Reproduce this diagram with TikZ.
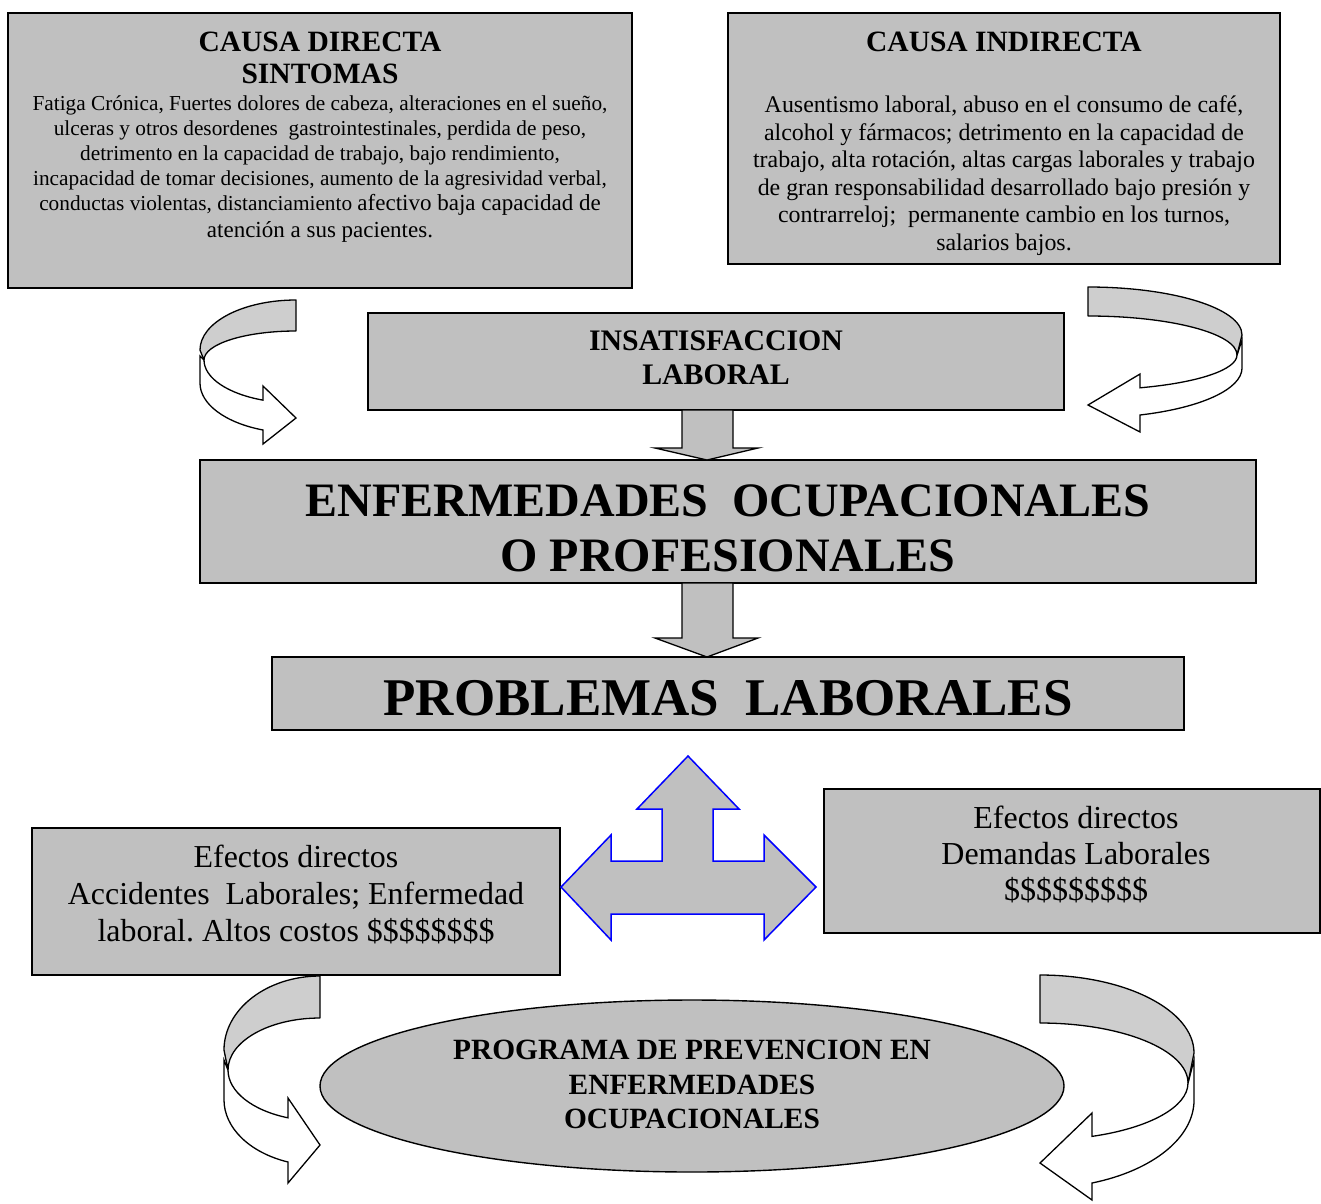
\documentclass[tikz,border=0pt]{standalone}
\usepackage{fontspec}
\setmainfont{Liberation Serif}
\usetikzlibrary{shapes.geometric}
\definecolor{boxgray}{RGB}{192,192,192}
\definecolor{bandgray}{RGB}{206,206,206}
\definecolor{blueline}{RGB}{0,0,255}
\frenchspacing
\begin{document}
\begin{tikzpicture}[x=1pt,y=-1pt,
  box/.style={draw=black,line width=1.4pt,fill=boxgray,inner sep=0pt,outer sep=0pt,anchor=north west},
  txt/.style={inner sep=0pt,outer sep=0pt,align=center,anchor=north},
  headfont/.style={font=\fontsize{29.5}{31.6}\selectfont\bfseries},
  blockarrow/.style={draw=black,line width=1.3pt,fill=boxgray,line join=miter},
  bandback/.style={draw=black,line width=1.3pt,fill=bandgray,line join=round},
  bandfront/.style={draw=black,line width=1.3pt,fill=white,line join=miter}]

\useasboundingbox (0,0) rectangle (1321,1203);
\fill[white] (0,0) rectangle (1321,1203);

% ---- boxes ----
\node[box,minimum width=624pt,minimum height=275pt] (directa) at (8,13) {};
\node[box,minimum width=552pt,minimum height=251pt] (indirecta) at (728,13) {};
\node[box,minimum width=696pt,minimum height=97pt] (insat) at (368,313) {};
\node[box,minimum width=1056pt,minimum height=123pt] (enf) at (200,460) {};
\node[box,minimum width=912pt,minimum height=73pt] (prob) at (272,657) {};
\node[box,minimum width=528pt,minimum height=147pt] (efizq) at (32,828) {};
\node[box,minimum width=496pt,minimum height=144pt] (efder) at (824,789) {};
\node[ellipse,draw=black,line width=1.4pt,fill=boxgray,inner sep=0pt,
      minimum width=744pt,minimum height=172pt] (prog) at (692,1086) {};

% ---- texts ----
\node[txt,headfont] (directa-t) at (320,32.4) {CAUSA DIRECTA\\SINTOMAS};
\node[txt,font=\fontsize{21.3}{25}\selectfont] (directa-b) at (320,95.8) {%
Fatiga Crónica, Fuertes dolores de cabeza, alteraciones en el sueño,\\
ulceras y otros desordenes\ \ gastrointestinales, perdida de peso,\\
detrimento en la capacidad de trabajo, bajo rendimiento,\\
incapacidad de tomar decisiones, aumento de la agresividad verbal,\\
conductas violentas, distanciamiento {\fontsize{23}{27}\selectfont afectivo baja capacidad de}\\[1.5pt]
{\fontsize{23}{27}\selectfont atención a sus pacientes.}};

\node[txt,headfont] (indirecta-t) at (1004,32.4) {CAUSA INDIRECTA};
\node[txt,font=\fontsize{23.9}{27.5}\selectfont] (indirecta-b) at (1004,96) {%
Ausentismo laboral, abuso en el consumo de café,\\
alcohol y fármacos; detrimento en la capacidad de\\
trabajo, alta rotación, altas cargas laborales y trabajo\\
de gran responsabilidad desarrollado bajo presión y\\
contrarreloj;\ \ permanente cambio en los turnos,\\
salarios bajos.};

\node[txt,font=\fontsize{29.8}{34}\selectfont\bfseries] (insat-t) at (716,331) {INSATISFACCION\\LABORAL};
\node[txt,font=\fontsize{48}{55}\selectfont\bfseries] (enf-t) at (728,484.6) {ENFERMEDADES\ \ OCUPACIONALES\\O PROFESIONALES};
\node[txt,font=\fontsize{53}{60}\selectfont\bfseries] (prob-t) at (728,680.8) {PROBLEMAS\ \ LABORALES};
\node[txt,font=\fontsize{31.9}{37}\selectfont] (efizq-t) at (296,845) {Efectos directos\\Accidentes\ \ Laborales; Enfermedad\\laboral. Altos costos \$\$\$\$\$\$\$\$};
\node[txt,font=\fontsize{32}{36}\selectfont] (efder-t) at (1076,806) {Efectos directos\\Demandas Laborales\\\$\$\$\$\$\$\$\$\$};
\node[txt,font=\fontsize{29.4}{34.5}\selectfont\bfseries] (prog-t) at (692,1040.2) {PROGRAMA DE PREVENCION EN\\ENFERMEDADES\\OCUPACIONALES};

% ---- straight block arrows between the central boxes ----
\draw[blockarrow] (682,410) -- (733,410) -- (733,448) -- (758,448) -- (707,460)
  -- (655,448) -- (682,448) -- cycle;
\draw[blockarrow] (682,583) -- (733,583) -- (733,638) -- (758,638) -- (707,657)
  -- (655,638) -- (682,638) -- cycle;

% ---- three-way arrow under PROBLEMAS LABORALES ----
\draw[draw=blueline,line width=1.5pt,fill=boxgray,line join=miter]
  (688,756) -- (739,809) -- (713,809) -- (713,861) -- (764,861) -- (764,835)
  -- (816,887) -- (764,940) -- (764,914) -- (611,914) -- (611,940) -- (561,887)
  -- (611,835) -- (611,861) -- (662,861) -- (662,809) -- (637,809) -- cycle;

% ---- curved arrow, top left ----
\draw[bandfront] (204,360) arc[start angle=180,end angle=111,x radius=92,y radius=43]
  -- (263,386) -- (296,418) -- (263,444) -- (263,430)
  arc[start angle=110.1,end angle=180,x radius=96,y radius=50] -- (200,356) -- cycle;
\draw[bandback] (296,300) arc[start angle=-90,end angle=-180,x radius=96,y radius=50]
  -- (204,360) arc[start angle=180,end angle=270,x radius=92,y radius=29] -- cycle;

% ---- curved arrow, top right ----
\draw[bandfront] (1237,355) arc[start angle=0,end angle=69.6,x radius=149,y radius=35]
  -- (1140,374) -- (1088,405) -- (1140,432) -- (1140,415)
  arc[start angle=70.27,end angle=0,x radius=154,y radius=50] -- (1242,340) -- cycle;
\draw[bandback] (1088,287) arc[start angle=-90,end angle=0,x radius=154,y radius=48]
  -- (1237,355) arc[start angle=0,end angle=-90,x radius=149,y radius=39] -- cycle;

% ---- curved arrow, bottom left ----
\draw[bandfront] (228,1070) arc[start angle=180,end angle=110.4,x radius=92,y radius=51]
  -- (288,1098) -- (320,1145) -- (288,1183) -- (288,1162)
  arc[start angle=109.47,end angle=180,x radius=96,y radius=66] -- (224,1060) -- cycle;
\draw[bandback] (320,976) arc[start angle=-90,end angle=-180,x radius=96,y radius=74]
  -- (228,1070) arc[start angle=180,end angle=270,x radius=92,y radius=52] -- cycle;

% ---- curved arrow, bottom right ----
\draw[bandfront] (1188,1083) arc[start angle=0,end angle=69.45,x radius=148,y radius=57]
  -- (1092,1113) -- (1040,1163) -- (1092,1200) -- (1092,1183)
  arc[start angle=70.27,end angle=0,x radius=154,y radius=88] -- (1194,1060) -- cycle;
\draw[bandback] (1040,975) arc[start angle=-90,end angle=0,x radius=154,y radius=78]
  -- (1188,1083) arc[start angle=0,end angle=-90,x radius=148,y radius=60] -- cycle;

\end{tikzpicture}
\end{document}
